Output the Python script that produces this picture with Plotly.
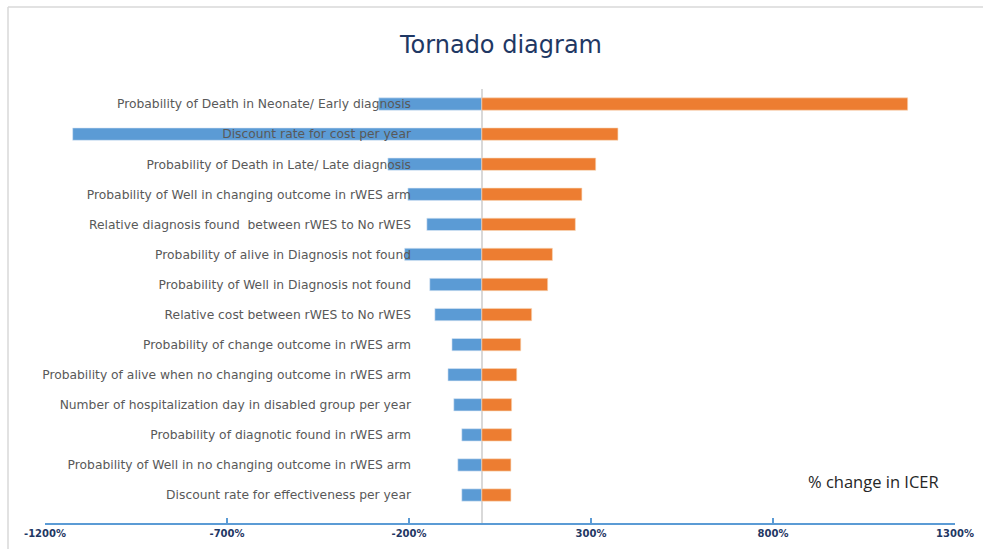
import plotly.graph_objects as go

categories = [
    "Probability of Death in Neonate/ Early diagnosis",
    "Discount rate for cost per year",
    "Probability of Death in Late/ Late diagnosis",
    "Probability of Well in changing outcome in rWES arm",
    "Relative diagnosis found  between rWES to No rWES",
    "Probability of alive in Diagnosis not found",
    "Probability of Well in Diagnosis not found",
    "Relative cost between rWES to No rWES",
    "Probability of change outcome in rWES arm",
    "Probability of alive when no changing outcome in rWES arm",
    "Number of hospitalization day in disabled group per year",
    "Probability of diagnotic found in rWES arm",
    "Probability of Well in no changing outcome in rWES arm",
    "Discount rate for effectiveness per year",
]
low_values = [-283, -1124, -258, -203, -151, -212, -143, -129, -82, -93, -77, -55, -66, -55]
high_values = [1170, 374, 313, 275, 257, 194, 181, 137, 107, 96, 82, 82, 80, 80]
x_ticks = [-1200, -700, -200, 300, 800, 1300]
x_tick_labels = ["-1200%", "-700%", "-200%", "300%", "800%", "1300%"]

BLUE = "#5b9bd5"
ORANGE = "#ed7d31"

fig = go.Figure()
fig.add_trace(go.Bar(y=categories, x=low_values, orientation="h", width=0.41,
                     marker=dict(color=BLUE, line=dict(color="#dbe8f5", width=0.6)),
                     name="Low"))
fig.add_trace(go.Bar(y=categories, x=high_values, orientation="h", width=0.41,
                     marker=dict(color=ORANGE, line=dict(color="#f8d9b8", width=0.6)),
                     name="High"))

L, R, T, B = 45, 28, 89, 26
W, H = 983, 549
pw, ph = W - L - R, H - T - B

def px_x(p):
    return (p - L) / pw

def px_y(p):
    return (H - B - p) / ph

fig.update_layout(
    width=W, height=H,
    margin=dict(l=L, r=R, t=T, b=B, autoexpand=False),
    paper_bgcolor="white", plot_bgcolor="white",
    barmode="overlay",
    showlegend=False,
    title=dict(text="Tornado diagram", x=501 / W, xanchor="center", y=1 - 45 / H,
               yanchor="middle", xref="container", yref="container",
               font=dict(family="DejaVu Sans", size=24, color="#1f3864")),
    xaxis=dict(range=[-1200, 1300], tickvals=x_ticks, ticktext=x_tick_labels,
               automargin=False,
               showgrid=False, zeroline=True, zerolinecolor="#d9d9d9", zerolinewidth=2,
               showline=True, linecolor=BLUE, linewidth=1.5,
               ticks="inside", ticklen=5, tickcolor=BLUE, tickwidth=1.5,
               tickfont=dict(family="DejaVu Sans", size=10, color="#1f3864", weight="bold")),
    yaxis=dict(type="category", categoryorder="array", categoryarray=categories,
               range=[13.93, -0.5], anchor="free", position=px_x(411),
               automargin=False,
               showgrid=False, zeroline=False, showline=False, ticks="",
               tickfont=dict(family="DejaVu Sans", size=12.3, color="#595959")),
    annotations=[dict(text="% change in ICER", xref="paper", yref="paper",
                      x=px_x(873.5), y=px_y(481), xanchor="center", yanchor="middle",
                      showarrow=False,
                      font=dict(family="Open Sans", size=16.5, color="#262626"))],
    shapes=[
        dict(type="line", xref="paper", yref="paper", x0=px_x(8), x1=px_x(8),
             y0=px_y(7), y1=px_y(560), line=dict(color="#d9d9d9", width=1.5)),
        dict(type="line", xref="paper", yref="paper", x0=px_x(8), x1=px_x(990),
             y0=px_y(7), y1=px_y(7), line=dict(color="#d9d9d9", width=1.5)),
    ],
)

fig.write_html("out.html")
